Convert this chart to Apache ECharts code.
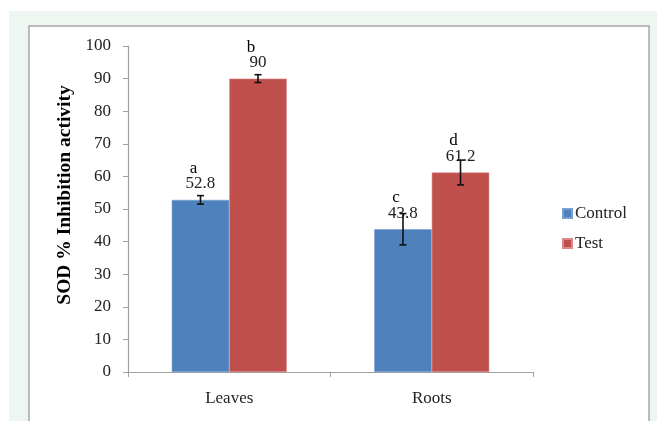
<!DOCTYPE html>
<html>
<head>
<meta charset="utf-8">
<script src="https://cdn.jsdelivr.net/npm/echarts@6/dist/echarts.min.js"></script>
<style>
html,body{margin:0;padding:0;background:#ffffff;}
#main{width:657px;height:421px;}
</style>
</head>
<body>
<div id="main"></div>
<script>
const categories = ['Leaves', 'Roots'];
const seriesNames = ['Control', 'Test'];
const controlValues = [52.8, 43.8];
const testValues = [90, 61.2];
const controlErrors = [1.3, 4.8];
const testErrors = [1.2, 3.8];
const controlLetters = ['a', 'c'];
const testLetters = ['b', 'd'];
const yTicks = [0, 10, 20, 30, 40, 50, 60, 70, 80, 90, 100];

const FONT = 'Liberation Serif';
const BLUE = '#4f81bd';
const RED = '#c0504d';

const chart = echarts.init(document.getElementById('main'), null, {renderer: 'canvas'});

function barLabel(letters) {
  return {
    show: true,
    position: 'top',
    distance: 7,
    formatter: p => '{l|' + letters[p.dataIndex] + '}\n{v|' + p.value + '}',
    rich: {
      l: {fontFamily: FONT, fontSize: 17, color: '#000', lineHeight: 13, padding: [0, 14, 0, 0]},
      v: {fontFamily: FONT, fontSize: 17, color: '#222', lineHeight: 18}
    }
  };
}

function errorSeries(values, errors, idx) {
  return {
    type: 'custom',
    z: 10,
    silent: true,
    data: categories.map((c, i) => [i, values[i], errors[i]]),
    renderItem: function (params, api) {
      const i = api.value(0);
      const v = api.value(1);
      const e = api.value(2);
      const size = api.size([1, 0]);
      const catW = size[0];
      const barW = catW * 0.284;
      const center = api.coord([i, v]);
      const x = center[0] + (idx === 0 ? -barW / 2 : barW / 2);
      const hi = api.coord([i, v + e])[1];
      const lo = api.coord([i, v - e])[1];
      const cap = 3.5;
      const st = {stroke: '#111', lineWidth: 1.6};
      return {
        type: 'group',
        children: [
          {type: 'line', shape: {x1: x, y1: hi, x2: x, y2: lo}, style: st},
          {type: 'line', shape: {x1: x - cap, y1: hi, x2: x + cap, y2: hi}, style: st},
          {type: 'line', shape: {x1: x - cap, y1: lo, x2: x + cap, y2: lo}, style: st}
        ]
      };
    }
  };
}

const option = {
  backgroundColor: '#ffffff',
  animation: false,
  graphic: [
    {type: 'rect', z: -10, shape: {x: 9, y: 11, width: 660, height: 420}, style: {fill: '#eef6f1'}},
    {type: 'rect', z: -9, shape: {x: 29, y: 26, width: 620, height: 420}, style: {fill: '#ffffff', stroke: '#a6a6a6', lineWidth: 1.5}},
    {type: 'text', z: 5, rotation: Math.PI / 2, x: 65, y: 195,
      style: {text: 'SOD % Inhibition activity', fontFamily: FONT, fontWeight: 'bold', fontSize: 19.5, fill: '#000', align: 'center', verticalAlign: 'middle'}}
  ],
  legend: {
    orient: 'vertical',
    left: 557,
    top: 200,
    itemWidth: 9,
    itemHeight: 9,
    itemGap: 13,
    icon: 'rect',
    textStyle: {fontFamily: FONT, fontSize: 17, color: '#222', padding: [0, 0, 0, -2]},
    data: seriesNames
  },
  grid: {left: 128, right: 124, top: 46, bottom: 49, containLabel: false},
  xAxis: {
    type: 'category',
    data: categories,
    axisLine: {lineStyle: {color: '#a0a0a0', width: 1.2}},
    axisTick: {show: true, length: 5, lineStyle: {color: '#a0a0a0'}},
    axisLabel: {fontFamily: FONT, fontSize: 17, color: '#222', margin: 18}
  },
  yAxis: {
    type: 'value',
    min: yTicks[0],
    max: yTicks[yTicks.length - 1],
    interval: 10,
    splitLine: {show: false},
    axisLine: {show: true, lineStyle: {color: '#a0a0a0', width: 1.2}},
    axisTick: {show: true, length: 5, lineStyle: {color: '#a0a0a0'}},
    axisLabel: {fontFamily: FONT, fontSize: 17, color: '#222', margin: 17}
  },
  series: [
    {
      name: seriesNames[0], type: 'bar', data: controlValues,
      barWidth: '28.4%', barGap: '0%', barCategoryGap: '43%',
      itemStyle: {color: BLUE, borderColor: '#7aa0d0', borderWidth: 0.6},
      label: barLabel(controlLetters)
    },
    {
      name: seriesNames[1], type: 'bar', data: testValues,
      barWidth: '28.4%', barGap: '0%',
      itemStyle: {color: RED, borderColor: '#d98a88', borderWidth: 0.6},
      label: barLabel(testLetters)
    },
    errorSeries(controlValues, controlErrors, 0),
    errorSeries(testValues, testErrors, 1)
  ]
};
chart.setOption(option);
</script>
</body>
</html>
